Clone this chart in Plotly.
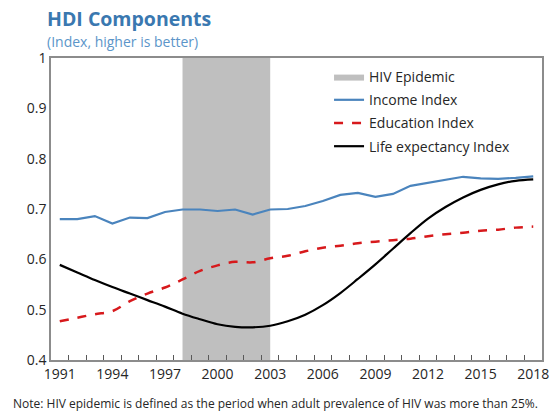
import plotly.graph_objects as go

years = list(range(1991, 2019))
income = [0.680, 0.680, 0.686, 0.671, 0.683, 0.682, 0.694, 0.699, 0.699, 0.696,
          0.699, 0.689, 0.699, 0.700, 0.706, 0.716, 0.728, 0.732, 0.724, 0.730,
          0.746, 0.752, 0.759, 0.764, 0.761, 0.760, 0.762, 0.765]
education = [0.477, 0.484, 0.491, 0.497, 0.517, 0.532, 0.544, 0.560, 0.577, 0.588,
             0.595, 0.594, 0.602, 0.607, 0.616, 0.623, 0.627, 0.632, 0.635, 0.638,
             0.641, 0.646, 0.650, 0.653, 0.657, 0.659, 0.663, 0.665]
life = [0.589, 0.574, 0.559, 0.545, 0.532, 0.519, 0.506, 0.492, 0.481, 0.471,
        0.466, 0.465, 0.468, 0.477, 0.490, 0.509, 0.533, 0.561, 0.590, 0.621,
        0.652, 0.681, 0.704, 0.723, 0.738, 0.749, 0.756, 0.759]
epidemic_start, epidemic_end = 1998, 2003
y_min, y_max = 0.4, 1.0
tick_years = [1991, 1994, 1997, 2000, 2003, 2006, 2009, 2012, 2015, 2018]

FONT = "Open Sans"
fig = go.Figure()
fig.add_trace(go.Scatter(
    x=[epidemic_start, epidemic_start, epidemic_end, epidemic_end],
    y=[y_min, y_max, y_max, y_min], fill="toself", fillcolor="#bfbfbf",
    mode="lines", line=dict(width=0, color="#bfbfbf"), name="HIV Epidemic",
    legendgroup="a", hoverinfo="skip"))
fig.add_trace(go.Scatter(x=years, y=income, mode="lines", name="Income Index",
                         legendgroup="b", line=dict(color="#4a84bd", width=2.2)))
fig.add_trace(go.Scatter(x=years, y=education, mode="lines", name="Education Index",
                         legendgroup="c",
                         line=dict(color="#d7191c", width=2.5, dash="dash", shape="spline")))
fig.add_trace(go.Scatter(x=years, y=life, mode="lines", name="Life expectancy Index",
                         legendgroup="d", line=dict(color="#000000", width=2.2, shape="spline")))

W, H = 559, 411
L, R, T, B = 51, 10, 58, 51
pw, ph = W - L - R, H - T - B

def px(x):
    return (x - L) / pw

def py(y):
    return (H - B - y) / ph

fig.update_layout(
    width=W, height=H, margin=dict(l=L, r=R, t=T, b=B),
    paper_bgcolor="white", plot_bgcolor="white",
    font=dict(family=FONT, color="#262626"),
    showlegend=True,
    legend=dict(x=px(333), y=py(61), xanchor="left", yanchor="top",
                bgcolor="rgba(0,0,0,0)", font=dict(size=14, color="#262626"),
                itemwidth=30, tracegroupgap=2),
    xaxis=dict(range=[1990.5, 2018.5], tickvals=tick_years,
               ticktext=[str(y) for y in tick_years], ticks="", showgrid=False,
               zeroline=False, showline=True, linecolor="#8c8c8c", linewidth=1.5,
               mirror=True, tickfont=dict(size=14, color="#262626"),
               minor=dict(tickvals=[y + 0.5 for y in years[:-1]], ticks="inside",
                          ticklen=5, tickcolor="#595959", tickwidth=1)),
    yaxis=dict(range=[y_min, y_max], dtick=0.1, tick0=0.4, ticks="", showgrid=False,
               zeroline=False, showline=True, linecolor="#8c8c8c", linewidth=1.5,
               mirror=True, tickfont=dict(size=14, color="#262626")),
    annotations=[
        dict(text="<b>HDI Components</b>", xref="paper", yref="paper", x=px(45), y=py(18),
             xanchor="left", yanchor="middle", showarrow=False,
             font=dict(size=19.5, color="#3a78b0", family=FONT)),
        dict(text="(Index, higher is better)", xref="paper", yref="paper", x=px(45), y=py(42),
             xanchor="left", yanchor="middle", showarrow=False,
             font=dict(size=14, color="#5b95c9", family=FONT)),
        dict(text="Note: HIV epidemic is defined as the period when adult prevalence of HIV was more than 25%.",
             xref="paper", yref="paper", x=px(10), y=py(403), xanchor="left", yanchor="middle",
             showarrow=False, font=dict(size=12, color="#262626", family=FONT)),
    ],
)
fig.write_html("out.html", config={"displayModeBar": False},
               post_script="document.body.style.margin='0';")
